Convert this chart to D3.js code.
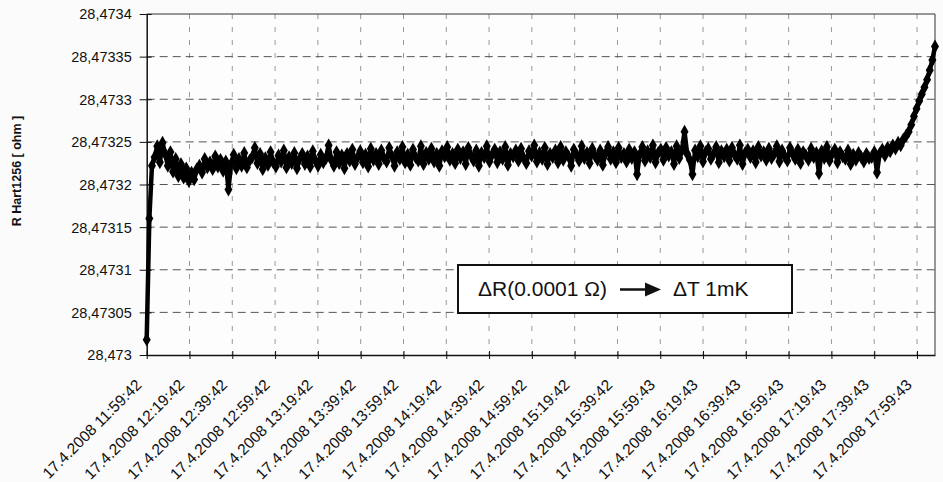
<!DOCTYPE html>
<html>
<head>
<meta charset="utf-8">
<script src="https://cdn.jsdelivr.net/npm/d3@7"></script>
<style>
  html, body { margin: 0; padding: 0; background: #fbfbfb; }
  svg { display: block; }
  text { font-family: "Liberation Sans", Arial, sans-serif; fill: #111; }
</style>
</head>
<body>
<svg id="chart" width="943" height="482"></svg>
<script>
// ---------------- DATA ----------------
const yAxisTitle = "R Hart1256 [ ohm ]";
const annotationLeft = "ΔR(0.0001 Ω)";
const annotationRight = "ΔT 1mK";

// Elapsed minutes covered by the recording (first sample .. last sample)
const elapsedMinutesSpan = 368.4;

const tickMinutes = [0, 20, 40, 60, 80, 100, 120, 140, 160, 180, 200, 220, 240, 260, 280, 300, 320, 340, 360];
const tickLabels = [
  "17.4.2008 11:59:42", "17.4.2008 12:19:42", "17.4.2008 12:39:42", "17.4.2008 12:59:42",
  "17.4.2008 13:19:42", "17.4.2008 13:39:42", "17.4.2008 13:59:42", "17.4.2008 14:19:42",
  "17.4.2008 14:39:42", "17.4.2008 14:59:42", "17.4.2008 15:19:42", "17.4.2008 15:39:42",
  "17.4.2008 15:59:43", "17.4.2008 16:19:43", "17.4.2008 16:39:43", "17.4.2008 16:59:43",
  "17.4.2008 17:19:43", "17.4.2008 17:39:43", "17.4.2008 17:59:43"
];

const yTicks = [28.473, 28.47305, 28.4731, 28.47315, 28.4732, 28.47325, 28.4733, 28.47335, 28.4734];
const yDomain = [28.473, 28.4734];

// Resistance samples (ohm), evenly spaced in time
const resistance = [
  28.473018, 28.473160, 28.473222, 28.473232, 28.473245, 28.473226, 28.473249, 28.473236, 28.473222, 28.473238, 28.473215, 28.473230,
  28.473210, 28.473224, 28.473208, 28.473219, 28.473204, 28.473214, 28.473206, 28.473218, 28.473222, 28.473214, 28.473230, 28.473220,
  28.473226, 28.473218, 28.473233, 28.473221, 28.473229, 28.473216, 28.473227, 28.473194, 28.473224, 28.473235, 28.473219, 28.473230,
  28.473222, 28.473237, 28.473220, 28.473228, 28.473232, 28.473243, 28.473225, 28.473236, 28.473218, 28.473231, 28.473223, 28.473238,
  28.473226, 28.473221, 28.473234, 28.473227, 28.473240, 28.473220, 28.473232, 28.473225, 28.473237, 28.473219, 28.473230, 28.473236,
  28.473224, 28.473233, 28.473221, 28.473239, 28.473228, 28.473222, 28.473235, 28.473226, 28.473231, 28.473246, 28.473229, 28.473222,
  28.473238, 28.473225, 28.473234, 28.473219, 28.473236, 28.473228, 28.473241, 28.473224, 28.473232, 28.473239, 28.473226, 28.473235,
  28.473221, 28.473242, 28.473229, 28.473236, 28.473224, 28.473240, 28.473231, 28.473227, 28.473243, 28.473233, 28.473222, 28.473238,
  28.473230, 28.473244, 28.473226, 28.473235, 28.473223, 28.473241, 28.473232, 28.473228, 28.473245, 28.473224, 28.473237, 28.473230,
  28.473242, 28.473227, 28.473236, 28.473222, 28.473239, 28.473233, 28.473244, 28.473229, 28.473236, 28.473225, 28.473241, 28.473231,
  28.473238, 28.473224, 28.473243, 28.473234, 28.473228, 28.473240, 28.473222, 28.473237, 28.473232, 28.473245, 28.473227, 28.473235,
  28.473241, 28.473226, 28.473238, 28.473230, 28.473244, 28.473223, 28.473236, 28.473233, 28.473240, 28.473228, 28.473242, 28.473231,
  28.473225, 28.473239, 28.473234, 28.473246, 28.473227, 28.473237, 28.473230, 28.473243, 28.473224, 28.473236, 28.473232, 28.473240,
  28.473226, 28.473244, 28.473229, 28.473238, 28.473233, 28.473222, 28.473241, 28.473235, 28.473228, 28.473245, 28.473231, 28.473237,
  28.473225, 28.473242, 28.473234, 28.473229, 28.473240, 28.473223, 28.473236, 28.473244, 28.473230, 28.473238, 28.473226, 28.473243,
  28.473232, 28.473236, 28.473227, 28.473241, 28.473231, 28.473238, 28.473212, 28.473235, 28.473244, 28.473228, 28.473239, 28.473232,
  28.473246, 28.473226, 28.473237, 28.473241, 28.473229, 28.473243, 28.473234, 28.473238, 28.473224, 28.473245, 28.473231, 28.473240,
  28.473262, 28.473236, 28.473229, 28.473212, 28.473240, 28.473233, 28.473245, 28.473227, 28.473238, 28.473242, 28.473230, 28.473236,
  28.473244, 28.473226, 28.473239, 28.473233, 28.473241, 28.473228, 28.473243, 28.473235, 28.473230, 28.473246, 28.473224, 28.473237,
  28.473241, 28.473232, 28.473239, 28.473226, 28.473244, 28.473234, 28.473238, 28.473229, 28.473242, 28.473231, 28.473236, 28.473245,
  28.473227, 28.473240, 28.473233, 28.473228, 28.473243, 28.473236, 28.473230, 28.473241, 28.473225, 28.473238, 28.473234, 28.473229,
  28.473242, 28.473232, 28.473237, 28.473213, 28.473239, 28.473231, 28.473244, 28.473228, 28.473236, 28.473241, 28.473226, 28.473238,
  28.473233, 28.473230, 28.473240, 28.473224, 28.473235, 28.473229, 28.473237, 28.473232, 28.473227, 28.473236, 28.473231,
  28.473232, 28.473238, 28.473214, 28.473236, 28.473241, 28.473234, 28.473243, 28.473239, 28.473246, 28.473242, 28.473249, 28.473246,
  28.473253, 28.473257, 28.473262, 28.473270, 28.473280, 28.473289, 28.473298, 28.473306, 28.473314, 28.473323, 28.473334, 28.473346,
  28.473362
];

// ---------------- LAYOUT ----------------
const W = 943, H = 482;
const plot = { left: 146.7, right: 935, top: 14, bottom: 355 };

const svg = d3.select("#chart");
svg.append("rect").attr("width", W).attr("height", H).attr("fill", "#fbfbfb");

const x = d3.scaleLinear().domain([0, elapsedMinutesSpan]).range([plot.left, plot.right]);
const y = d3.scaleLinear().domain(yDomain).range([plot.bottom, plot.top]);

const n = resistance.length;
const points = resistance.map((v, i) => ({ t: i * elapsedMinutesSpan / (n - 1), v }));

// plot background
svg.append("rect")
  .attr("x", plot.left).attr("y", plot.top)
  .attr("width", plot.right - plot.left).attr("height", plot.bottom - plot.top)
  .attr("fill", "#fdfdfd");

// vertical gridlines
svg.append("g").selectAll("line")
  .data(tickMinutes.filter(m => m > 0))
  .join("line")
  .attr("x1", d => x(d)).attr("x2", d => x(d))
  .attr("y1", plot.top).attr("y2", plot.bottom)
  .attr("stroke", "#999").attr("stroke-width", 1)
  .attr("stroke-dasharray", "5,8");

// horizontal gridlines
svg.append("g").selectAll("line")
  .data(yTicks.slice(1, -1))
  .join("line")
  .attr("x1", plot.left).attr("x2", plot.right)
  .attr("y1", d => y(d)).attr("y2", d => y(d))
  .attr("stroke", "#555").attr("stroke-width", 1)
  .attr("stroke-dasharray", "8,5");

// frame (top and right)
svg.append("path")
  .attr("d", `M${plot.left},${plot.top}H${plot.right}V${plot.bottom}`)
  .attr("fill", "none").attr("stroke", "#333").attr("stroke-width", 1);

// Y axis
const yAxis = d3.axisLeft(y)
  .tickValues(yTicks)
  .tickSize(0)
  .tickPadding(0)
  .tickFormat(d => String(+d.toFixed(5)).replace(".", ","));
const gy = svg.append("g").attr("transform", `translate(${plot.left},0)`).call(yAxis);
gy.select(".domain").attr("stroke", "#111").attr("stroke-width", 1.5);
gy.selectAll(".tick line").remove();
gy.selectAll(".tick").append("line")
  .attr("x1", -7).attr("x2", 5).attr("stroke", "#111").attr("stroke-width", 1);
gy.selectAll(".tick text")
  .attr("x", -15).attr("dy", "0.34em")
  .style("font-size", "14.5px").style("fill", "#111");

// X axis
const xAxis = d3.axisBottom(x).tickValues(tickMinutes).tickSize(0).tickFormat("");
const gx = svg.append("g").attr("transform", `translate(0,${plot.bottom})`).call(xAxis);
gx.select(".domain").attr("stroke", "#111").attr("stroke-width", 1.5);
gx.selectAll(".tick line").remove();
gx.selectAll(".tick").append("line")
  .attr("y1", -4).attr("y2", 4).attr("stroke", "#111").attr("stroke-width", 1);

// rotated x labels
svg.append("g").selectAll("text")
  .data(tickMinutes)
  .join("text")
  .attr("transform", d => `translate(${x(d) - 8},${plot.bottom + 27}) rotate(-45)`)
  .attr("text-anchor", "end")
  .attr("dy", "0.35em")
  .style("font-size", "15.5px")
  .text((d, i) => tickLabels[i]);

// Y title
svg.append("text")
  .attr("transform", `translate(21,171) rotate(-90)`)
  .attr("text-anchor", "middle")
  .style("font-size", "12.5px").style("font-weight", "bold")
  .text(yAxisTitle);

// data line
const line = d3.line().x(d => x(d.t)).y(d => y(d.v));
svg.append("path")
  .datum(points)
  .attr("d", line)
  .attr("fill", "none").attr("stroke", "#000").attr("stroke-width", 4.5)
  .attr("stroke-linejoin", "round");

// markers
const sym = d3.symbol().type(d3.symbolDiamond).size(55);
svg.append("g").selectAll("path")
  .data(points)
  .join("path")
  .attr("transform", d => `translate(${x(d.t)},${y(d.v)})`)
  .attr("d", sym)
  .attr("fill", "#000");

// annotation box
const box = { x: 458, y: 265, w: 334, h: 48 };
svg.append("rect")
  .attr("x", box.x).attr("y", box.y).attr("width", box.w).attr("height", box.h)
  .attr("fill", "#fff").attr("stroke", "#111").attr("stroke-width", 2);
svg.append("text")
  .attr("x", 478).attr("y", 296)
  .style("font-size", "21px")
  .text(annotationLeft);
svg.append("line")
  .attr("x1", 620).attr("x2", 647).attr("y1", 289.5).attr("y2", 289.5)
  .attr("stroke", "#111").attr("stroke-width", 2.5);
svg.append("path")
  .attr("d", "M645,282.5L661,289.5L645,296.5Z")
  .attr("fill", "#111");
svg.append("text")
  .attr("x", 673).attr("y", 296)
  .style("font-size", "21px")
  .text(annotationRight);
</script>
</body>
</html>
